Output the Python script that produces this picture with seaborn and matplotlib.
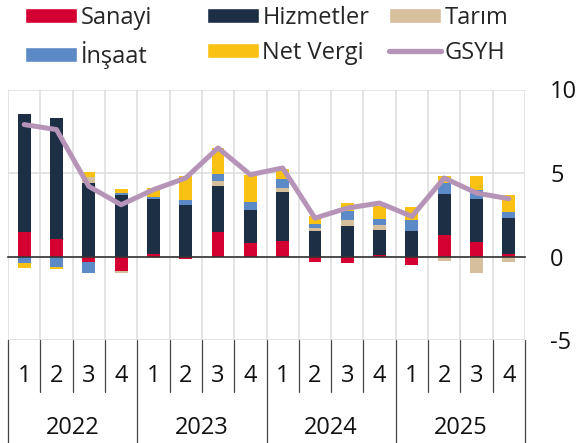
import numpy as np
import pandas as pd
import seaborn as sns
import matplotlib.pyplot as plt
from matplotlib.patches import Patch
from matplotlib.lines import Line2D
import matplotlib.transforms as mtransforms

sns.set_style('white')
plt.rcParams['font.family'] = ['Open Sans', 'DejaVu Sans']
plt.rcParams['axes.unicode_minus'] = False

# ==================== veri ====================
yillar = ['2022', '2023', '2024', '2025']
ceyrekler = ['1', '2', '3', '4'] * 4
sanayi = [1.46, 1.06, -0.30, -0.86, 0.14, -0.16, 1.44, 0.80, 0.92, -0.30, -0.40, 0.10, -0.50, 1.26, 0.84, 0.16]
hizmetler = [7.09, 7.24, 4.40, 3.70, 3.30, 3.10, 2.76, 2.00, 2.92, 1.54, 1.80, 1.50, 1.54, 2.50, 2.62, 2.14]
tarim = [0.00, 0.00, 0.34, -0.10, -0.10, 0.00, 0.34, 0.00, 0.26, 0.16, 0.38, 0.30, 0.00, -0.24, -1.00, -0.30]
insaat = [-0.36, -0.64, -0.66, 0.10, 0.10, 0.26, 0.42, 0.48, 0.56, 0.26, 0.56, 0.36, 0.66, 0.64, 0.54, 0.38]
net_vergi = [-0.34, -0.10, 0.32, 0.22, 0.56, 1.44, 1.54, 1.62, 0.58, 0.44, 0.48, 0.74, 0.74, 0.44, 0.84, 1.02]
gsyh = [7.9, 7.6, 4.2, 3.1, 4.0, 4.7, 6.5, 4.9, 5.3, 2.3, 2.9, 3.2, 2.4, 4.7, 3.8, 3.46]

renkler = {
    'Sanayi': '#D50032',
    'Hizmetler': '#1C2F45',
    'Tarım': '#D6BF9C',
    'İnşaat': '#5B8AC6',
    'Net Vergi': '#F8C113',
    'GSYH': '#B594B8',
}

katmanlar = [('Sanayi', sanayi), ('Hizmetler', hizmetler), ('Tarım', tarim),
             ('İnşaat', insaat), ('Net Vergi', net_vergi)]

n = len(gsyh)
xpos = np.arange(n)
fs = 17

fig = plt.figure(figsize=(5.76, 4.43), dpi=100)
ax = fig.add_axes([8 / 576, 1 - 340 / 443, (525 - 8) / 576, (340 - 89.5) / 443])

# yığılmış çubuklar (pozitif ve negatif ayrı)
pos_base = np.zeros(n)
neg_base = np.zeros(n)
for ad, degerler in katmanlar:
    v = np.array(degerler, dtype=float)
    taban = np.where(v >= 0, pos_base, neg_base)
    sns.barplot(x=xpos, y=v, bottom=taban, color=renkler[ad], width=0.4,
                native_scale=True, errorbar=None, saturation=1, ax=ax,
                edgecolor='none', zorder=2)
    pos_base = pos_base + np.where(v >= 0, v, 0)
    neg_base = neg_base + np.where(v < 0, v, 0)

# GSYH çizgisi
sns.lineplot(x=xpos, y=gsyh, color=renkler['GSYH'], linewidth=3.6, ax=ax,
             zorder=4, solid_joinstyle='round', solid_capstyle='round')

# eksenler
ax.set_xlim(-0.5, n - 0.5)
ax.set_ylim(-5, 10)
ax.set_xticks(np.arange(-0.5, n, 1))
ax.set_yticks([-5, 0, 5, 10])
ax.set_axisbelow(True)
ax.grid(True, color='#dcdcdc', linewidth=1.1)
ax.yaxis.tick_right()
ax.tick_params(axis='y', length=0, pad=18, labelsize=fs, labelcolor='#111111')
ax.tick_params(axis='x', direction='out', length=4, width=1.1, color='#222222',
               labelbottom=False)
ax.set_xlabel('')
ax.set_ylabel('')
for s in ['top', 'left', 'right']:
    ax.spines[s].set_visible(False)
ax.spines['bottom'].set_position(('data', 0))
ax.spines['bottom'].set_color('#333333')
ax.spines['bottom'].set_linewidth(1.2)
ax.spines['bottom'].set_zorder(3)

# alt kategori etiketleri (çeyrek / yıl)
trans = mtransforms.blended_transform_factory(ax.transData, ax.transAxes)
y_ceyrek = (340 - 376) / 250.5
y_yil = (340 - 428) / 250.5
y_ceyrek_cizgi = (340 - 392) / 250.5
y_yil_cizgi = (340 - 443) / 250.5
for i, c in enumerate(ceyrekler):
    ax.text(i, y_ceyrek, c, transform=trans, ha='center', va='center',
            fontsize=fs, color='#111111', clip_on=False)
for k, yil in enumerate(yillar):
    ax.text(4 * k + 1.5, y_yil, yil, transform=trans, ha='center', va='center',
            fontsize=fs, color='#111111', clip_on=False)
for b in np.arange(-0.5, n, 1):
    alt = y_yil_cizgi if (b + 0.5) % 4 == 0 else y_ceyrek_cizgi
    ax.add_line(Line2D([b, b], [0, alt], transform=trans, color='#444444',
                       linewidth=0.9, clip_on=False))

# lejant
lejant_sira = [['Sanayi', 'İnşaat'], ['Hizmetler', 'Net Vergi'], ['Tarım', 'GSYH']]
lejant_x = [25, 207, 389]
for sutun, x0 in zip(lejant_sira, lejant_x):
    handles = []
    for ad in sutun:
        if ad == 'GSYH':
            handles.append(Line2D([0], [0], color=renkler[ad], linewidth=3.8,
                                  solid_capstyle='round', label=ad))
        else:
            handles.append(Patch(facecolor=renkler[ad], label=ad))
    fig.legend(handles=handles, loc='upper left', bbox_to_anchor=(x0 / 576, 1 - 6 / 443),
               frameon=False, fontsize=fs, handlelength=2.2, handleheight=0.62,
               handletextpad=0.15, labelspacing=0.45, borderpad=0, borderaxespad=0)

fig.savefig('out.png', dpi=100)
